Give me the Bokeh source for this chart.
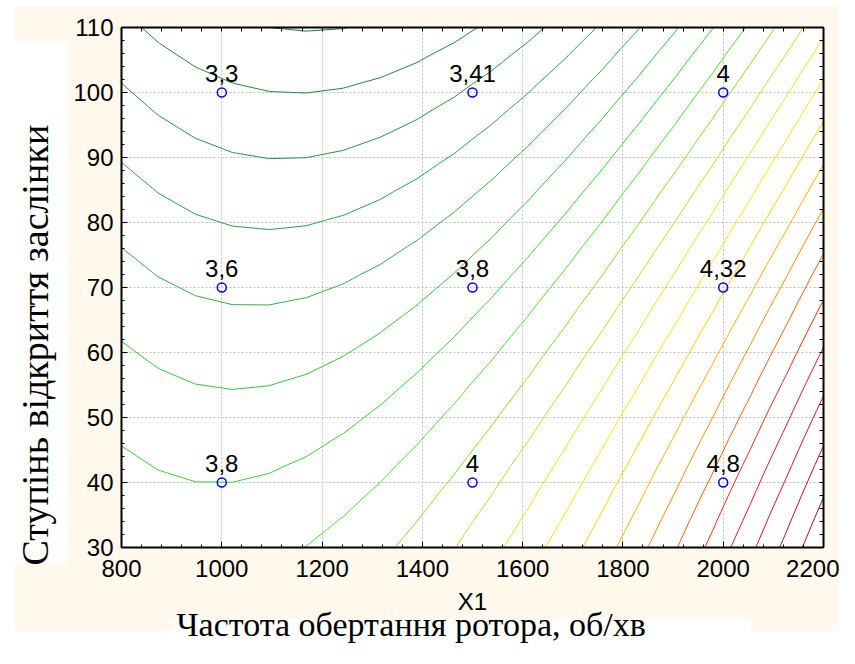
import numpy as np
from bokeh.plotting import figure
from bokeh.models import Range1d, LinearAxis, Title, FixedTicker, ColumnDataSource
from bokeh.transform import dodge
from bokeh.embed import file_html
from bokeh.resources import INLINE
from bokeh.core.properties import value

# ---------------- data ----------------
point_x = [1000, 1500, 2000, 1000, 1500, 2000, 1000, 1500, 2000]
point_y = [100, 100, 100, 70, 70, 70, 40, 40, 40]
response = [3.3, 3.41, 4.0, 3.6, 3.8, 4.32, 3.8, 4.0, 4.8]
point_labels = ["3,3", "3,41", "4", "3,6", "3,8", "4,32", "3,8", "4", "4,8"]

contour_levels = [3.2, 3.3, 3.4, 3.5, 3.6, 3.7, 3.8, 3.9, 4.0, 4.1, 4.2,
                  4.3, 4.4, 4.5, 4.6, 4.7, 4.8, 4.9, 5.0, 5.1, 5.2]
contour_colors = ["#1f7a3a", "#23873c", "#26953f", "#29a342", "#2cb43f",
                  "#2ec63a", "#33d633", "#4ae22c", "#7fe62a", "#b4e825",
                  "#dfe81c", "#f7e80c", "#ffd400", "#ffb000", "#ff8a00",
                  "#ff5a0a", "#f82a14", "#e81a1a", "#d41818", "#b81616",
                  "#9a1414"]

x_ticks = [800, 1000, 1200, 1400, 1600, 1800, 2000, 2200]
y_ticks = [30, 40, 50, 60, 70, 80, 90, 100, 110]
x_minor = list(range(800, 2201, 40))
y_minor = list(range(30, 111, 2))

x_axis_title = "X1"
y_title = "Ступінь відкриття заслінки"
bottom_title = "Частота обертання ротора, об/хв"

X_RANGE = (800, 2200)
Y_RANGE = (30, 110)

CREAM = "#fef9ec"

# ------------- fitted quadratic response surface -------------
px_ = np.array(point_x, float)
py_ = np.array(point_y, float)
pz_ = np.array(response, float)
u = (px_ - 1500.0) / 500.0
v = (py_ - 70.0) / 30.0
A = np.column_stack([np.ones_like(u), u, v, u * u, v * v, u * v])
coef, *_ = np.linalg.lstsq(A, pz_, rcond=None)

gx = np.linspace(X_RANGE[0], X_RANGE[1], 20)
gy = np.linspace(Y_RANGE[0], Y_RANGE[1], 20)
GX, GY = np.meshgrid(gx, gy)
GU = (GX - 1500.0) / 500.0
GV = (GY - 70.0) / 30.0
GZ = (coef[0] + coef[1] * GU + coef[2] * GV + coef[3] * GU ** 2
      + coef[4] * GV ** 2 + coef[5] * GU * GV)

# ------------- figure -------------
W, H = 839, 648
ML, MR, MT, MB = 119, 16, 27, 101

page_bg = ", ".join([
    "linear-gradient(#ffffff, #ffffff) 0px 41px / 68px 522px no-repeat",
    "linear-gradient(#ffffff, #ffffff) 172px 619px / 579px 45px no-repeat",
    f"linear-gradient({CREAM}, {CREAM}) 15px 6px / 840px 625px no-repeat",
    "#ffffff",
])

p = figure(width=W, height=H, output_backend="svg", toolbar_location=None,
           x_range=Range1d(*X_RANGE), y_range=Range1d(*Y_RANGE),
           min_border_left=ML, min_border_right=MR,
           min_border_top=MT, min_border_bottom=MB,
           background_fill_color="white", border_fill_color=None,
           outline_line_color=None, styles={"background": page_bg})

# grid
for g in (p.xgrid, p.ygrid):
    g.grid_line_color = "#bdbdbd"
    g.grid_line_dash = "2 2"
    g.grid_line_width = 1
p.xgrid.ticker = FixedTicker(ticks=x_ticks)
p.ygrid.ticker = FixedTicker(ticks=y_ticks)


def style_axis(ax, standoff):
    ax.axis_line_width = 2
    ax.axis_line_color = "black"
    ax.major_tick_in = 6
    ax.major_tick_out = 0
    ax.minor_tick_in = 3
    ax.minor_tick_out = 0
    ax.major_tick_line_color = "black"
    ax.minor_tick_line_color = "black"
    ax.major_label_text_font = "Liberation Sans"
    ax.major_label_text_color = "black"
    ax.major_label_text_font_size = "24px"
    ax.major_label_standoff = standoff


p.xaxis.ticker = FixedTicker(ticks=x_ticks, minor_ticks=x_minor)
p.yaxis.ticker = FixedTicker(ticks=y_ticks, minor_ticks=y_minor)
style_axis(p.xaxis[0], 12)
style_axis(p.yaxis[0], 8)
p.xaxis.axis_label = x_axis_title
p.xaxis.axis_label_text_font = "Liberation Sans"
p.xaxis.axis_label_text_font_size = "24px"
p.xaxis.axis_label_text_font_style = "normal"
p.xaxis.axis_label_text_color = "black"
p.xaxis.axis_label_standoff = 8

# top and right frame axes: tick marks only
for side, minors in (("above", x_minor), ("right", y_minor)):
    ax = LinearAxis(ticker=FixedTicker(ticks=[], minor_ticks=minors))
    ax.axis_line_width = 2
    ax.axis_line_color = "black"
    ax.minor_tick_in = 4
    ax.minor_tick_out = 0
    ax.minor_tick_line_color = "black"
    ax.major_tick_in = 0
    ax.major_tick_out = 0
    ax.major_label_standoff = 0
    p.add_layout(ax, side)

# contours of the fitted surface
p.contour(GX, GY, GZ, contour_levels, line_color=contour_colors, line_width=1)

# points and labels
src = ColumnDataSource(dict(x=point_x, y=point_y, label=point_labels))
p.scatter("x", "y", source=src, marker="circle", size=9, fill_color=None,
          line_color="#0000ff", line_width=1.5)
p.text(x="x", y=dodge("y", 3.0, range=p.y_range), text="label", source=src,
       text_align="center", text_baseline="alphabetic",
       text_font=value("Liberation Sans"), text_font_size="24px",
       text_color="black")

# document titles
p.add_layout(Title(text=y_title, align="left", offset=-18,
                   vertical_align="top", standoff=26,
                   text_font="Liberation Serif", text_font_size="38px",
                   text_font_style="normal", text_color="black"), "left")
p.add_layout(Title(text=bottom_title, align="left", offset=55,
                   vertical_align="top", standoff=-24,
                   text_font="Liberation Serif", text_font_size="34px",
                   text_font_style="normal", text_color="black"), "below")

open("out.html", "w").write(file_html(p, INLINE))
